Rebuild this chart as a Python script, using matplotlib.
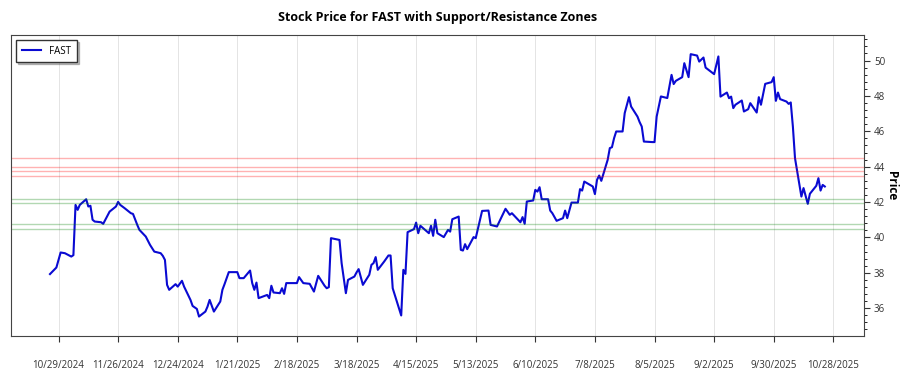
# Precio de FAST con zonas de soporte / resistencia

import pandas as pd
import matplotlib
matplotlib.use('Agg')
import matplotlib.pyplot as plt
import matplotlib.dates as mdates
from matplotlib.ticker import AutoMinorLocator

plt.rcParams['font.family'] = ['Open Sans', 'DejaVu Sans']

ticker = 'FAST'

# fechas y cierres
dates = [
    '2024-10-25', '2024-10-28', '2024-10-30', '2024-11-01', '2024-11-04', '2024-11-05',
    '2024-11-06', '2024-11-07', '2024-11-08', '2024-11-11', '2024-11-12', '2024-11-13',
    '2024-11-14', '2024-11-15', '2024-11-18', '2024-11-19', '2024-11-22', '2024-11-25',
    '2024-11-26', '2024-11-27', '2024-11-29', '2024-12-02', '2024-12-03', '2024-12-05',
    '2024-12-06', '2024-12-09', '2024-12-11', '2024-12-13', '2024-12-16', '2024-12-17',
    '2024-12-18', '2024-12-19', '2024-12-20', '2024-12-23', '2024-12-24', '2024-12-26',
    '2024-12-27', '2024-12-30', '2024-12-31', '2025-01-02', '2025-01-03', '2025-01-06',
    '2025-01-07', '2025-01-08', '2025-01-10', '2025-01-13', '2025-01-14', '2025-01-15',
    '2025-01-17', '2025-01-21', '2025-01-22', '2025-01-24', '2025-01-27', '2025-01-28',
    '2025-01-29', '2025-01-30', '2025-01-31', '2025-02-03', '2025-02-04', '2025-02-05',
    '2025-02-06', '2025-02-07', '2025-02-10', '2025-02-11', '2025-02-12', '2025-02-13',
    '2025-02-18', '2025-02-19', '2025-02-21', '2025-02-24', '2025-02-26', '2025-02-28',
    '2025-03-03', '2025-03-04', '2025-03-05', '2025-03-06', '2025-03-10', '2025-03-11',
    '2025-03-13', '2025-03-14', '2025-03-17', '2025-03-18', '2025-03-19', '2025-03-21',
    '2025-03-24', '2025-03-25', '2025-03-26', '2025-03-27', '2025-03-28', '2025-03-31',
    '2025-04-02', '2025-04-03', '2025-04-04', '2025-04-08', '2025-04-09', '2025-04-10',
    '2025-04-11', '2025-04-14', '2025-04-15', '2025-04-16', '2025-04-17', '2025-04-21',
    '2025-04-22', '2025-04-23', '2025-04-24', '2025-04-25', '2025-04-28', '2025-04-30',
    '2025-05-01', '2025-05-02', '2025-05-05', '2025-05-06', '2025-05-07', '2025-05-08',
    '2025-05-09', '2025-05-12', '2025-05-13', '2025-05-16', '2025-05-19', '2025-05-20',
    '2025-05-23', '2025-05-27', '2025-05-29', '2025-05-30', '2025-06-02', '2025-06-03',
    '2025-06-04', '2025-06-05', '2025-06-06', '2025-06-09', '2025-06-10', '2025-06-11',
    '2025-06-12', '2025-06-13', '2025-06-16', '2025-06-17', '2025-06-18', '2025-06-20',
    '2025-06-23', '2025-06-24', '2025-06-25', '2025-06-27', '2025-06-30', '2025-07-01',
    '2025-07-02', '2025-07-03', '2025-07-07', '2025-07-08', '2025-07-09', '2025-07-10',
    '2025-07-11', '2025-07-14', '2025-07-15', '2025-07-16', '2025-07-17', '2025-07-18',
    '2025-07-21', '2025-07-22', '2025-07-24', '2025-07-25', '2025-07-28', '2025-07-29',
    '2025-07-30', '2025-07-31', '2025-08-04', '2025-08-05', '2025-08-06', '2025-08-08',
    '2025-08-11', '2025-08-13', '2025-08-14', '2025-08-15', '2025-08-18', '2025-08-19',
    '2025-08-21', '2025-08-22', '2025-08-25', '2025-08-26', '2025-08-28', '2025-08-29',
    '2025-09-02', '2025-09-04', '2025-09-05', '2025-09-08', '2025-09-09', '2025-09-10',
    '2025-09-11', '2025-09-12', '2025-09-15', '2025-09-16', '2025-09-18', '2025-09-19',
    '2025-09-22', '2025-09-23', '2025-09-24', '2025-09-26', '2025-09-29', '2025-09-30',
    '2025-10-01', '2025-10-02', '2025-10-03', '2025-10-06', '2025-10-07', '2025-10-08',
    '2025-10-09', '2025-10-10', '2025-10-13', '2025-10-14', '2025-10-16', '2025-10-17',
    '2025-10-20', '2025-10-21', '2025-10-22', '2025-10-23', '2025-10-24',
]

close = [
    37.93, 38.30, 39.15, 39.11, 38.92, 39.00,
    41.84, 41.56, 41.84, 42.16, 41.75, 41.79,
    41.00, 40.90, 40.86, 40.77, 41.46, 41.75,
    42.01, 41.84, 41.66, 41.37, 41.33, 40.71,
    40.43, 40.05, 39.58, 39.20, 39.11, 38.96,
    38.73, 37.32, 37.04, 37.36, 37.22, 37.55,
    37.22, 36.47, 36.13, 35.96, 35.53, 35.81,
    36.09, 36.47, 35.81, 36.38, 37.04, 37.36,
    38.04, 38.04, 37.70, 37.70, 38.13, 37.42,
    37.04, 37.45, 36.57, 36.70, 36.75, 36.57,
    37.27, 36.89, 36.85, 37.13, 36.81, 37.42,
    37.42, 37.76, 37.42, 37.38, 36.94, 37.83,
    37.27, 37.13, 37.19, 39.96, 39.86, 38.55,
    36.85, 37.60, 37.79, 38.02, 38.21, 37.32,
    37.89, 38.45, 38.55, 38.89, 38.17, 38.64,
    38.98, 38.98, 37.13, 35.59, 38.17, 37.94,
    40.30, 40.47, 40.84, 40.24, 40.66, 40.24,
    40.66, 40.09, 41.00, 40.24, 40.02, 40.43,
    40.33, 41.03, 41.18, 39.30, 39.26, 39.62,
    39.34, 40.02, 39.96, 41.50, 41.52, 40.71,
    40.62, 41.62, 41.28, 41.37, 40.99, 40.86,
    41.15, 40.77, 42.03, 42.09, 42.69, 42.59,
    42.84, 42.16, 42.16, 41.52, 41.37, 40.94,
    41.09, 41.52, 41.09, 41.97, 41.97, 42.73,
    42.65, 43.16, 42.88, 42.45, 43.26, 43.50,
    43.20, 44.39, 45.05, 45.10, 45.61, 45.99,
    45.99, 47.03, 47.93, 47.40, 46.83, 46.52,
    46.27, 45.42, 45.39, 45.39, 46.83, 47.97,
    47.88, 49.19, 48.67, 48.85, 49.06, 49.85,
    49.06, 50.36, 50.28, 49.94, 50.17, 49.60,
    49.23, 50.23, 47.96, 48.19, 47.87, 47.96,
    47.31, 47.50, 47.74, 47.12, 47.25, 47.59,
    47.06, 47.93, 47.50, 48.68, 48.78, 49.06,
    47.72, 48.19, 47.82, 47.68, 47.55, 47.63,
    46.27, 44.48, 42.31, 42.79, 41.90, 42.47,
    42.92, 43.35, 42.65, 42.97, 42.88,
]

# niveles de resistencia y soporte
resistance = [44.5, 44.0, 43.75, 43.5]
support = [42.2, 41.95, 40.75, 40.5]

tick_dates = ['2024-10-29', '2024-11-26', '2024-12-24', '2025-01-21', '2025-02-18',
              '2025-03-18', '2025-04-15', '2025-05-13', '2025-06-10', '2025-07-08',
              '2025-08-05', '2025-09-02', '2025-09-30', '2025-10-28']

x = pd.to_datetime(dates)

fig = plt.figure(figsize=(9, 3.75), dpi=100)
ax = fig.add_axes([0.0125, 0.104, 0.947, 0.803])

ax.plot(x, close, color='#0a0ad2', linewidth=1.5, label=ticker)

for r in resistance:
    ax.axhline(r, color='red', alpha=0.3, linewidth=1)
for s in support:
    ax.axhline(s, color='green', alpha=0.3, linewidth=1)

ax.set_ylim(34.43, 51.45)
ax.set_xticks(pd.to_datetime(tick_dates))
ax.xaxis.set_major_formatter(plt.FuncFormatter(
    lambda v, p: '{d.month}/{d.day}/{d.year}'.format(d=mdates.num2date(v))))
ax.grid(True, axis='x', color='#e4e4e4', linewidth=0.7)

ax.yaxis.tick_right()
ax.yaxis.set_label_position('right')
ax.yaxis.set_minor_locator(AutoMinorLocator(5))
ax.tick_params(axis='x', labelsize=7, pad=13, colors='#333333', length=4)
ax.tick_params(axis='y', labelsize=7, colors='#333333', length=4)
ax.tick_params(axis='y', which='minor', length=2)
ax.set_ylabel('Price', fontsize=8.5, fontweight='bold', rotation=270, labelpad=9)

for sp in ax.spines.values():
    sp.set_color('#444444')

ax.set_title('Stock Price for FAST with Support/Resistance Zones',
             fontsize=9, fontweight='bold', pad=10)

leg = ax.legend(loc='upper left', fontsize=7, fancybox=False,
                shadow={'ox': 1.5, 'oy': -1.5, 'alpha': 0.35},
                edgecolor='#333333', borderpad=0.6)

plt.savefig('out.png')
